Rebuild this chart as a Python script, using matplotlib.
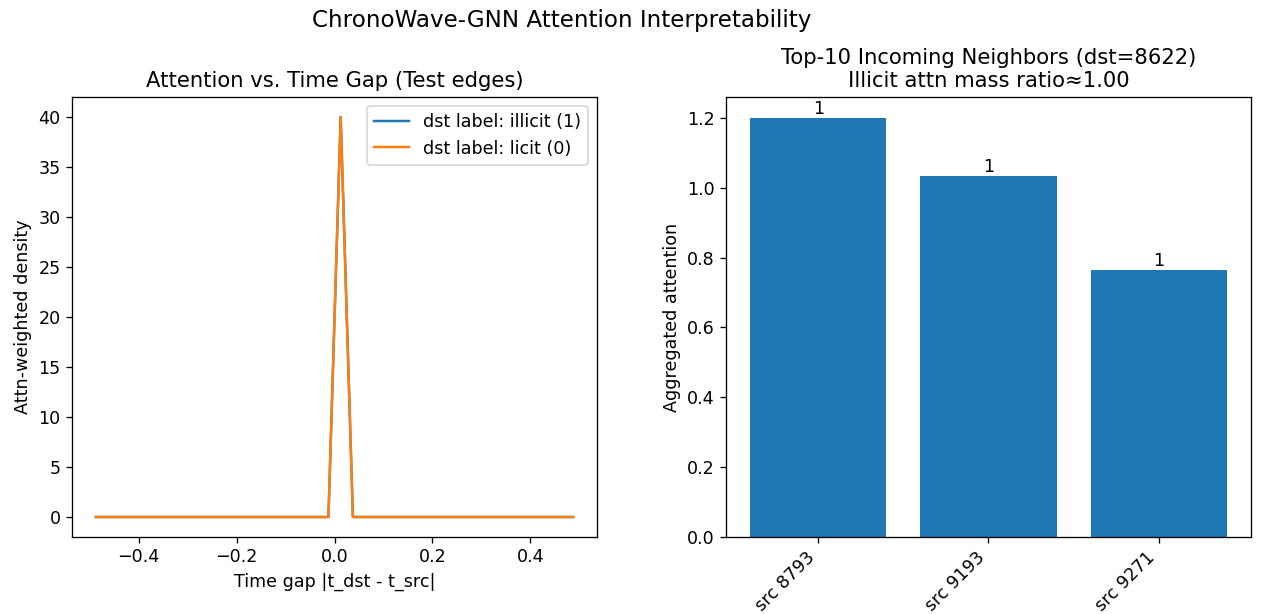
import numpy as np
import matplotlib.pyplot as plt

# --- data ---
# attention-weighted density per time-gap bin (40 bins on [-0.5, 0.5])
gap_centers = np.arange(-0.4875, 0.5, 0.025)
dens_illicit = np.zeros(len(gap_centers))
dens_illicit[20] = 40.0          # all mass in the bin centred at 0.0125
dens_licit = dens_illicit.copy()  # the licit curve lies right on top

src_names = ["src 8793", "src 9193", "src 9271"]
attn_vals = [1.20, 1.035, 0.765]
edge_counts = [1, 1, 1]

dst_id = 8622
mass_ratio = 1.00

plt.rcParams["font.size"] = 10.7
plt.rcParams["axes.titlesize"] = 12.9

DPI = 118
fig = plt.figure(figsize=(1262 / DPI, 614 / DPI), dpi=DPI)
fig.suptitle("ChronoWave-GNN Attention Interpretability", x=0.445, y=0.967,
             va="center", fontsize=14)

# left: density vs gap
ax1 = fig.add_axes([0.0571, 0.1254, 0.416, 0.7166])
ax1.plot(gap_centers, dens_illicit, label="dst label: illicit (1)")
ax1.plot(gap_centers, dens_licit, label="dst label: licit (0)")
ax1.set_title("Attention vs. Time Gap (Test edges)")
ax1.set_xlabel("Time gap |t_dst - t_src|")
ax1.set_ylabel("Attn-weighted density")
ax1.legend(loc="upper right")

# right: top neighbours
ax2 = fig.add_axes([0.5755, 0.1254, 0.4155, 0.7166])
bars = ax2.bar(range(len(src_names)), attn_vals)
ax2.bar_label(bars, labels=[str(c) for c in edge_counts])
ax2.set_xticks(range(len(src_names)))
ax2.set_xticklabels(src_names, rotation=45, ha="right")
ax2.set_ylabel("Aggregated attention")
ax2.set_title("Top-10 Incoming Neighbors (dst=%d)\nIllicit attn mass ratio\u2248%.2f" % (dst_id, mass_ratio))

fig.savefig("out.png", dpi=DPI)
